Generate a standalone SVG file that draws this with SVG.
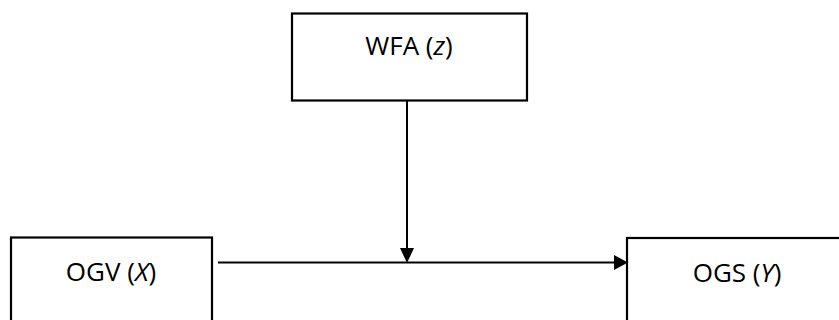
<svg xmlns="http://www.w3.org/2000/svg" width="839" height="320" viewBox="0 0 839 320">
<style>
.box{fill:#fff;stroke:#000;stroke-width:2.2}
.lbl{font-family:"Open Sans","Liberation Sans",sans-serif;font-size:26px;fill:#000;text-anchor:middle}
.edge{stroke:#000;stroke-width:2;fill:none}
.head{fill:#000}
</style>
<rect width="839" height="320" fill="#fff"/>
<g id="wfa">
<rect class="box" x="292" y="13.5" width="235" height="87"/>
<text class="lbl" x="409" y="55">WFA (<tspan font-style="italic">z</tspan>)</text>
</g>
<g id="ogv">
<rect class="box" x="11" y="237.5" width="201" height="100"/>
<text class="lbl" x="111" y="281">OGV (<tspan font-style="italic">X</tspan>)</text>
</g>
<g id="ogs">
<rect class="box" x="627" y="238" width="230" height="100"/>
<text class="lbl" x="737" y="282">OGS (<tspan font-style="italic">Y</tspan>)</text>
</g>
<g id="connectors">
<line class="edge" x1="218" y1="262.5" x2="615" y2="262.5"/>
<polygon class="head" points="614,255 628,262.5 614,270"/>
<line class="edge" x1="407" y1="101" x2="407" y2="249"/>
<polygon class="head" points="400,248 414,248 407,263"/>
</g>
</svg>
